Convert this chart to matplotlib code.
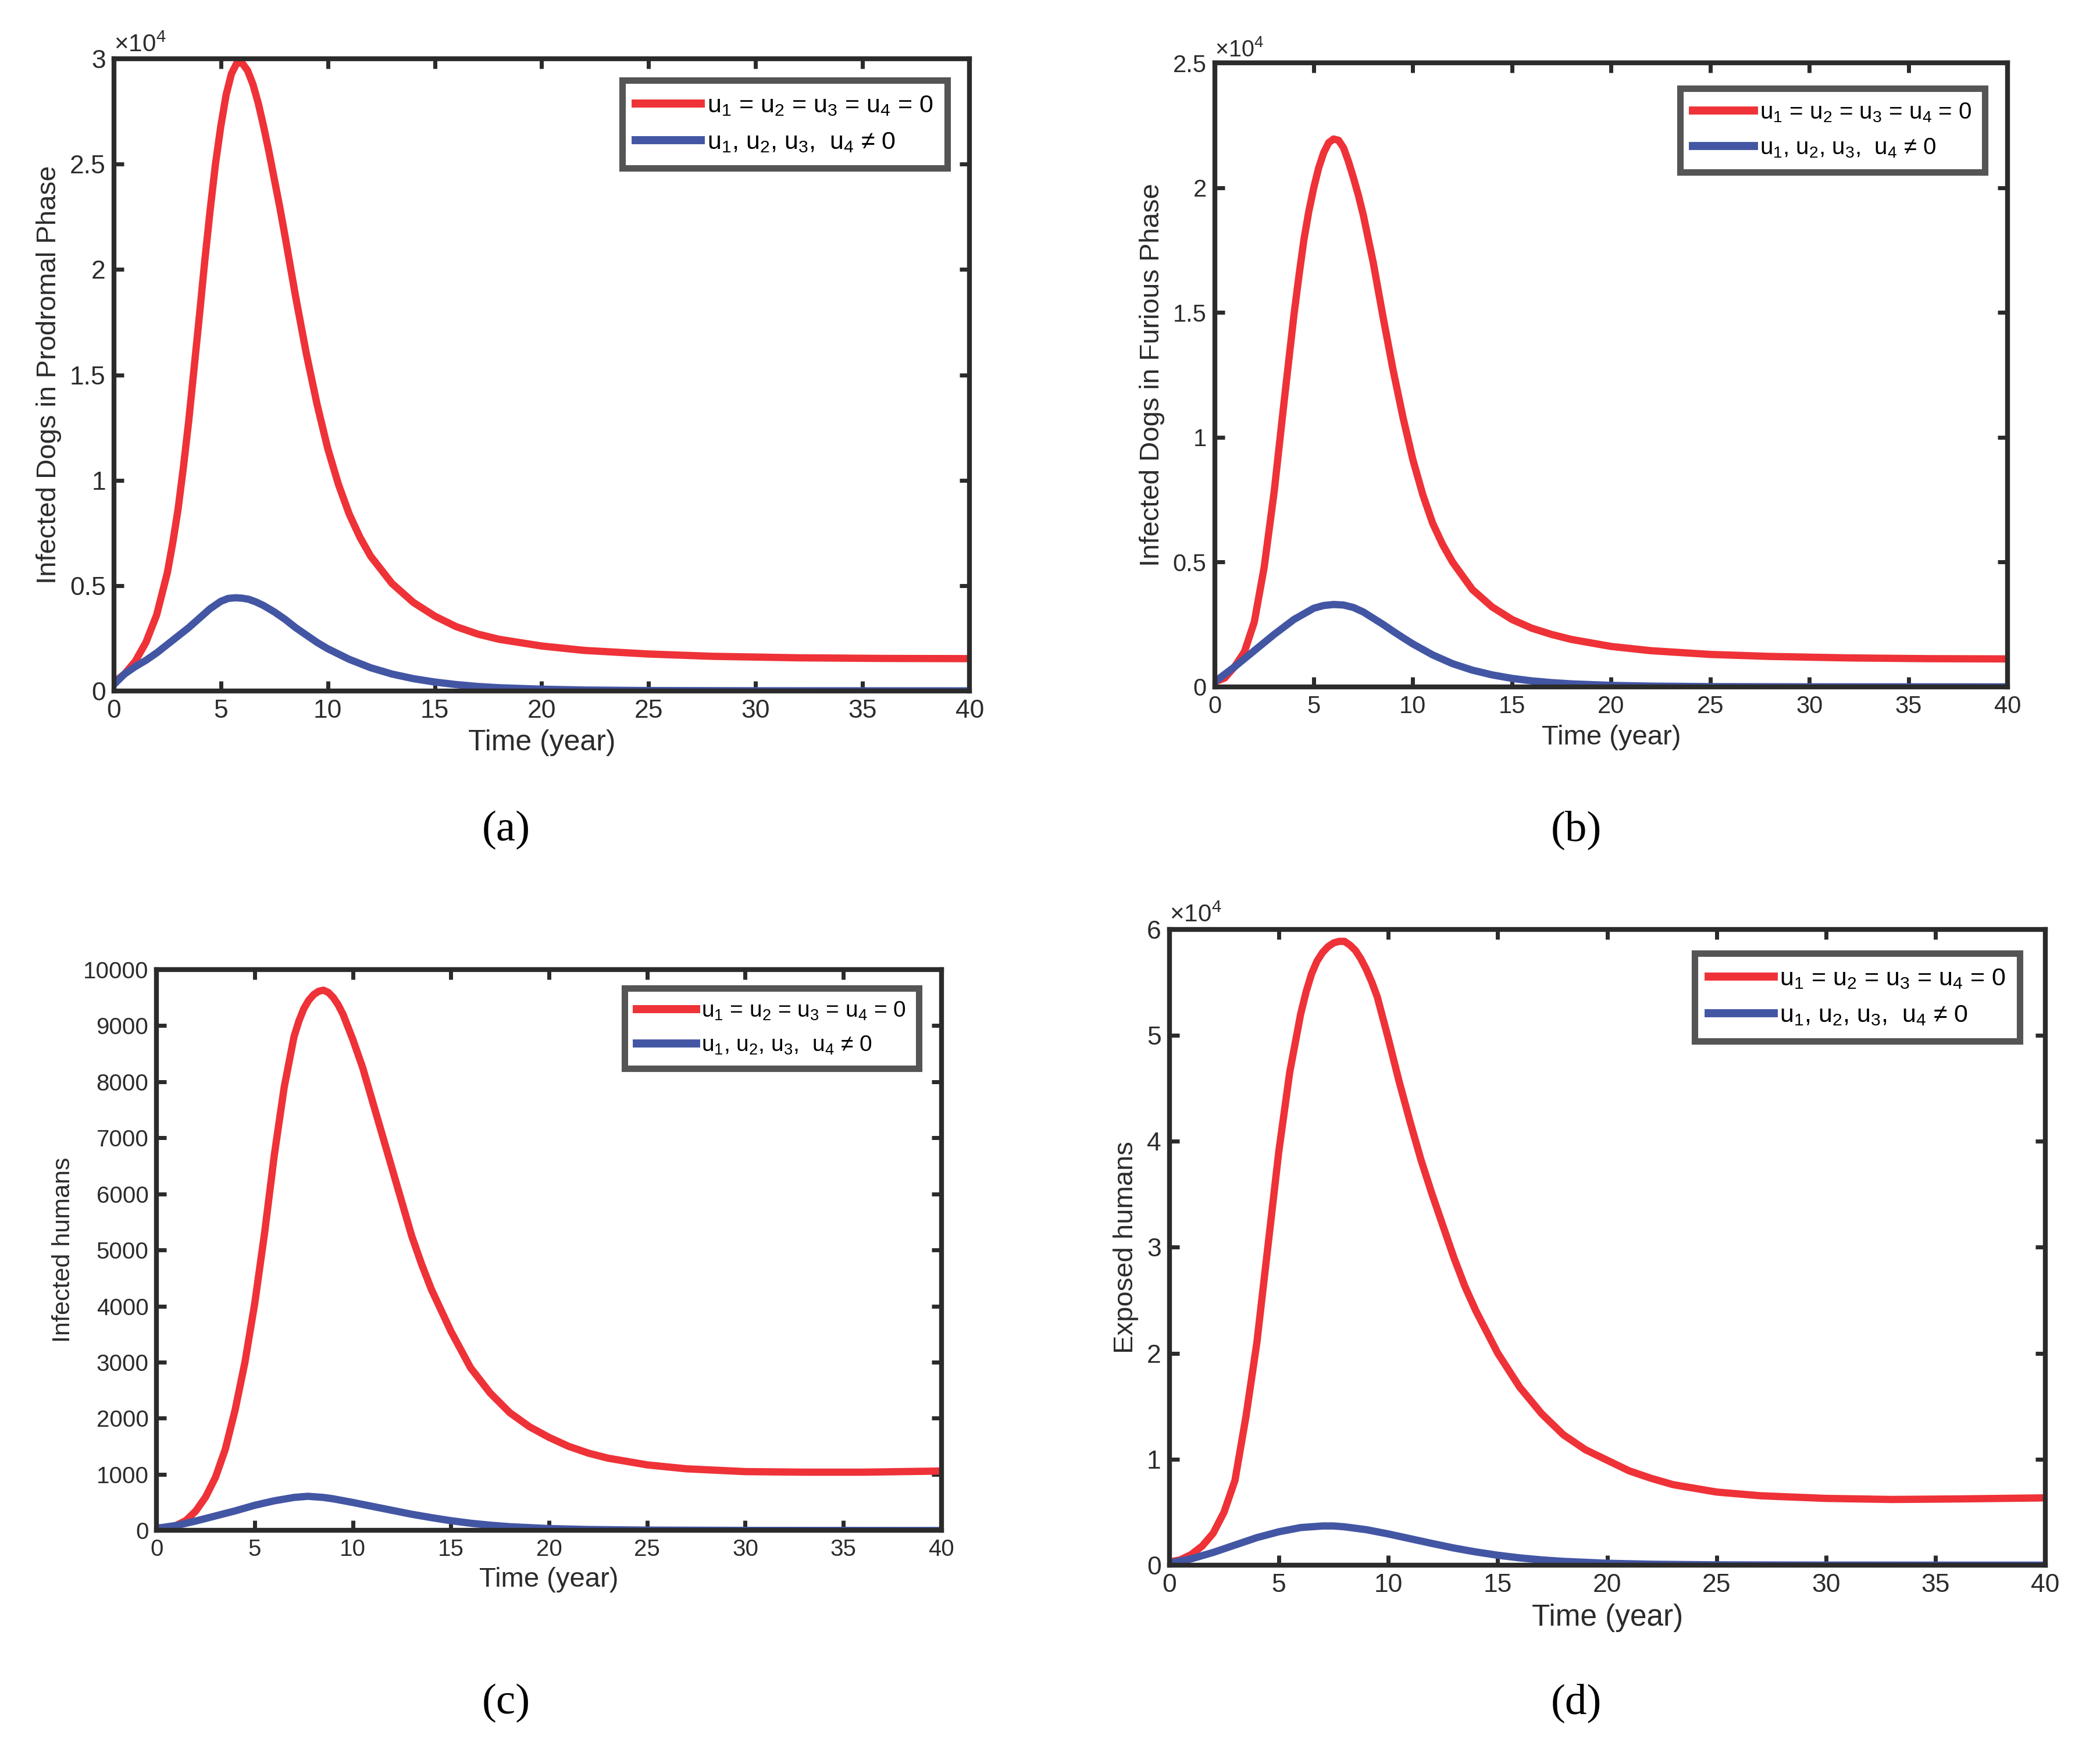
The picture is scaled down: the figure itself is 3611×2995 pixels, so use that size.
"""
Rabies model: compartments with and without controls (4 panels)
"""

import matplotlib
matplotlib.use('Agg')
import matplotlib.pyplot as plt
from matplotlib.ticker import FuncFormatter

plt.rcParams['font.family'] = ['Liberation Sans', 'DejaVu Sans']
plt.rcParams['mathtext.fontset'] = 'custom'
plt.rcParams['mathtext.rm'] = 'Liberation Sans'
plt.rcParams['mathtext.it'] = 'Liberation Sans'

RED = '#ee3237'
BLUE = '#4356a4'
DARK = '#2b2b2b'

# ---- data ----
# (a) infected dogs, prodromal phase
t_a_red = [0, 0.5, 1, 1.5, 2, 2.5, 2.75, 3, 3.25, 3.5, 3.75, 4, 4.25, 4.5, 4.75, 5, 5.25, 5.5,
           5.75, 6, 6.25, 6.5, 6.75, 7, 7.25, 7.5, 7.75, 8, 8.5, 9, 9.5, 10, 10.5, 11, 11.5,
           12, 13, 14, 15, 16, 17, 18, 20, 22, 25, 28, 32, 36, 40]
y_a_red = [400, 800, 1400, 2300, 3600, 5600, 7000, 8600, 10600, 12800, 15300, 17800, 20400,
           22800, 25000, 26800, 28300, 29300, 29800, 29800, 29450, 28800, 27900, 26800, 25600,
           24300, 23000, 21600, 18700, 16000, 13600, 11500, 9800, 8400, 7300, 6400, 5100, 4200,
           3550, 3050, 2700, 2450, 2130, 1920, 1750, 1640, 1570, 1540, 1530]
t_a_blue = [0, 0.5, 1, 1.5, 2, 2.5, 3, 3.5, 4, 4.5, 5, 5.35, 5.7, 6, 6.3, 6.65, 7, 7.5, 8,
            8.5, 9, 9.5, 10, 11, 12, 13, 14, 15, 16, 17, 18, 20, 22, 25, 30, 40]
y_a_blue = [300, 800, 1150, 1450, 1800, 2200, 2600, 3000, 3450, 3900, 4250, 4390, 4420, 4400,
            4350, 4220, 4050, 3750, 3400, 3000, 2650, 2300, 2000, 1500, 1100, 800, 580, 420,
            300, 210, 150, 80, 40, 15, 5, 0]

# (b) infected dogs, furious phase
t_b_red = [0, 0.5, 1, 1.5, 2, 2.5, 3, 3.5, 4, 4.25, 4.5, 4.75, 5, 5.25, 5.5, 5.75, 6, 6.25,
           6.5, 6.75, 7, 7.25, 7.5, 8, 8.5, 9, 9.5, 10, 10.5, 11, 11.5, 12, 13, 14, 15, 16,
           17, 18, 20, 22, 25, 28, 32, 36, 40]
y_b_red = [200, 350, 800, 1400, 2600, 4800, 7800, 11400, 14900, 16450, 17900, 19050, 20000,
           20800, 21400, 21800, 21950, 21900, 21600, 21050, 20400, 19700, 18900, 17000, 14800,
           12700, 10800, 9100, 7700, 6550, 5700, 5000, 3900, 3200, 2700, 2350, 2100, 1900,
           1620, 1450, 1300, 1220, 1160, 1130, 1120]
t_b_blue = [0, 1, 2, 3, 4, 5, 5.5, 6, 6.5, 7, 7.5, 8, 8.5, 9, 9.5, 10, 11, 12, 13, 14, 15,
            16, 17, 18, 20, 22, 25, 30, 40]
y_b_blue = [200, 800, 1450, 2100, 2700, 3150, 3260, 3300, 3280, 3180, 3000, 2750, 2500, 2230,
            1970, 1720, 1280, 930, 670, 480, 340, 240, 170, 120, 60, 30, 10, 2, 0]

# (c) infected humans
t_c_red = [0, 0.5, 1, 1.5, 2, 2.5, 3, 3.5, 4, 4.5, 5, 5.5, 6, 6.5, 7, 7.25, 7.5, 7.75, 8,
           8.25, 8.5, 8.75, 9, 9.25, 9.5, 10, 10.5, 11, 11.5, 12, 12.5, 13, 13.5, 14, 15, 16,
           17, 18, 19, 20, 21, 22, 23, 25, 27, 30, 33, 36, 40]
y_c_red = [40, 55, 90, 180, 350, 600, 950, 1450, 2150, 3000, 4050, 5300, 6700, 7900, 8800,
           9080, 9300, 9450, 9550, 9610, 9630, 9590, 9500, 9370, 9200, 8750, 8250, 7650, 7050,
           6450, 5850, 5250, 4750, 4300, 3550, 2900, 2450, 2100, 1850, 1660, 1500, 1380, 1290,
           1170, 1100, 1050, 1040, 1040, 1060]
t_c_blue = [0, 1, 2, 3, 4, 5, 6, 7, 7.7, 8.5, 9, 10, 11, 12, 13, 14, 15, 16, 17, 18, 20, 22,
            25, 30, 40]
y_c_blue = [40, 90, 170, 260, 350, 450, 530, 590, 610, 590, 565, 500, 430, 360, 290, 230, 175,
            130, 95, 68, 35, 18, 7, 2, 0]

# (d) exposed humans
t_d_red = [0, 0.5, 1, 1.5, 2, 2.5, 3, 3.5, 4, 4.5, 5, 5.5, 6, 6.25, 6.5, 6.75, 7, 7.25, 7.5,
           7.75, 8, 8.25, 8.5, 8.75, 9, 9.25, 9.5, 10, 10.5, 11, 11.5, 12, 12.5, 13, 13.5, 14,
           15, 16, 17, 18, 19, 20, 21, 22, 23, 25, 27, 30, 33, 36, 40]
y_d_red = [300, 500, 1000, 1800, 3000, 5000, 8000, 14000, 21000, 30000, 39000, 46500, 52000,
           54100, 55800, 57000, 57800, 58350, 58700, 58850, 58850, 58500, 58000, 57200, 56200,
           55000, 53600, 49700, 45600, 41800, 38200, 35000, 32000, 29000, 26300, 24000, 20000,
           16800, 14300, 12300, 10900, 9900, 8900, 8200, 7600, 6900, 6550, 6300, 6200, 6250,
           6350]
t_d_blue = [0, 1, 2, 3, 4, 5, 6, 7, 7.5, 8, 9, 10, 11, 12, 13, 14, 15, 16, 17, 18, 20, 22, 25,
            30, 40]
y_d_blue = [200, 600, 1200, 1900, 2600, 3150, 3550, 3700, 3700, 3620, 3350, 2950, 2500, 2050,
            1620, 1250, 940, 690, 500, 360, 180, 90, 30, 8, 0]

x_ticks = [0, 5, 10, 15, 20, 25, 30, 35, 40]
legend_labels = ['u$_1$ = u$_2$ = u$_3$ = u$_4$ = 0',
                 'u$_1$, u$_2$, u$_3$,  u$_4$ \u2260 0']

panels = [
    dict(rect=[0.0542, 0.6034, 0.4075, 0.3628], red=(t_a_red, y_a_red), blue=(t_a_blue, y_a_blue),
         yticks=[0, 5000, 10000, 15000, 20000, 25000, 30000], ylim=30000,
         ylabel='Infected Dogs in Prodromal Phase', scaled=True, tag='(a)', tagpos=(0.2411, 0.5234),
         anchor=(0.974, 0.966), fs=32, xfs=36, yfs=34, lfs=31),
    dict(rect=[0.5784, 0.6057, 0.3776, 0.3582], red=(t_b_red, y_b_red), blue=(t_b_blue, y_b_blue),
         yticks=[0, 5000, 10000, 15000, 20000, 25000], ylim=25000,
         ylabel='Infected Dogs in Furious Phase', scaled=True, tag='(b)', tagpos=(0.7506, 0.5234),
         anchor=(0.971, 0.959), fs=30, xfs=34, yfs=34, lfs=29),
    dict(rect=[0.0746, 0.1214, 0.3737, 0.3221], red=(t_c_red, y_c_red), blue=(t_c_blue, y_c_blue),
         yticks=list(range(0, 10001, 1000)), ylim=10000,
         ylabel='Infected humans', scaled=False, tag='(c)', tagpos=(0.2411, 0.0223),
         anchor=(0.971, 0.967), fs=29, xfs=34, yfs=31, lfs=28),
    dict(rect=[0.5568, 0.1015, 0.4171, 0.3651], red=(t_d_red, y_d_red), blue=(t_d_blue, y_d_blue),
         yticks=[0, 10000, 20000, 30000, 40000, 50000, 60000], ylim=60000,
         ylabel='Exposed humans', scaled=True, tag='(d)', tagpos=(0.7506, 0.0223),
         anchor=(0.971, 0.962), fs=32, xfs=37, yfs=34, lfs=31),
]

fig = plt.figure(figsize=(36.11, 29.95), dpi=100)

for p in panels:
    ax = fig.add_axes(p['rect'])
    fs = p['fs']
    ax.plot(*p['red'], color=RED, lw=9, label=legend_labels[0], solid_joinstyle='round')
    ax.plot(*p['blue'], color=BLUE, lw=9, label=legend_labels[1], solid_joinstyle='round')

    ax.set_xlim(0, 40)
    ax.set_ylim(0, p['ylim'])
    ax.set_xticks(x_ticks)
    ax.set_yticks(p['yticks'])
    if p['scaled']:
        ax.yaxis.set_major_formatter(FuncFormatter(lambda v, pos: '%g' % (v / 1e4)))
        ax.text(0.0, 1.003, r'$\times$10$^4$', transform=ax.transAxes, ha='left', va='bottom',
                fontsize=fs * 0.95, color=DARK)

    ax.tick_params(direction='in', top=True, right=True, length=12, width=5,
                   labelsize=fs, colors=DARK, pad=10)
    for s in ax.spines.values():
        s.set_linewidth(6)
        s.set_color(DARK)

    ax.set_xlabel('Time (year)', fontsize=p['xfs'], color=DARK, labelpad=8)
    ax.set_ylabel(p['ylabel'], fontsize=p['yfs'], color=DARK, labelpad=10)

    leg = ax.legend(loc='upper right', bbox_to_anchor=p['anchor'], fontsize=p['lfs'],
                    frameon=True, fancybox=False, handlelength=2.6, handletextpad=0.25,
                    borderpad=0.55, labelspacing=0.55, borderaxespad=0)
    leg.get_frame().set_edgecolor(DARK)
    leg.get_frame().set_linewidth(8)
    for line in leg.get_lines():
        line.set_linewidth(10)

    fig.text(p['tagpos'][0], p['tagpos'][1], p['tag'], ha='center', va='center',
             fontsize=54, family=['Liberation Serif', 'DejaVu Serif'], color='black')

fig.savefig('out.png', dpi=100)
